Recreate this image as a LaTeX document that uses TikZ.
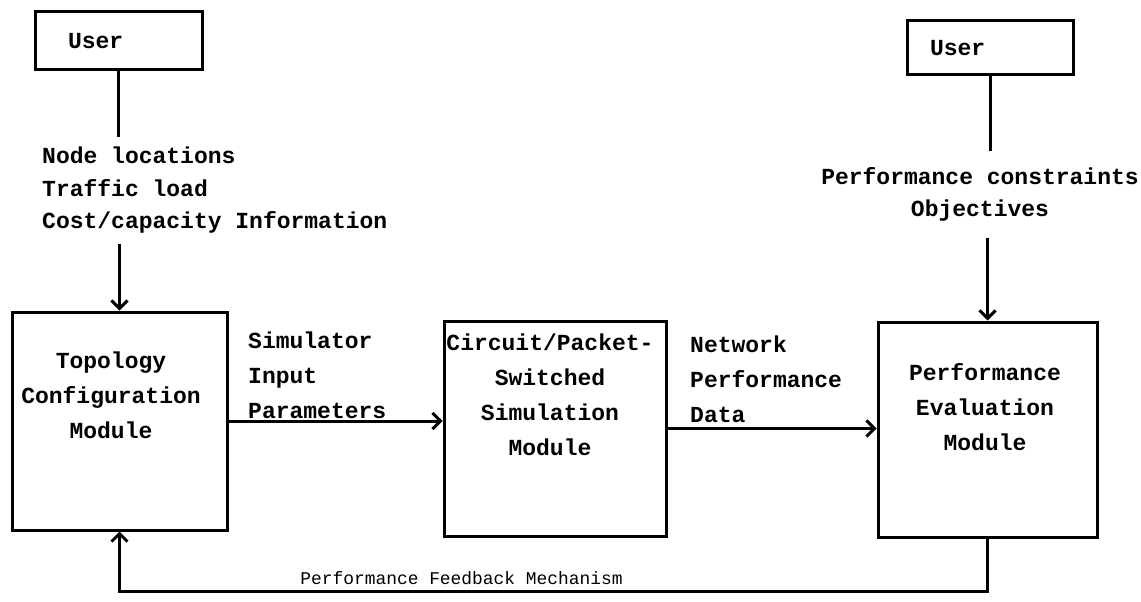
\documentclass[tikz,border=0pt]{standalone}
\usepackage{fontspec}
\setmonofont{Liberation Mono}
\usetikzlibrary{arrows.meta}
\begin{document}
\begin{tikzpicture}[x=1pt,y=-1pt,
  box/.style={draw, line width=3pt, inner sep=0pt},
  txt/.style={font=\ttfamily\bfseries\fontsize{23}{35}\selectfont, inner sep=0pt},
  lbl/.style={font=\ttfamily\bfseries\fontsize{23}{32.5}\selectfont, inner sep=0pt},
  link/.style={line width=3pt},
  flow/.style={link, -{Straight Barb[length=8pt,width=16pt]}}]
\useasboundingbox (0,0) rectangle (1141,602);

\node[box, txt, minimum height=58pt, inner xsep=33pt, text width=101pt] (user1) at (118.5,41) {User};
\node[box, txt, minimum height=54pt, inner xsep=23pt, text width=120pt] (user2) at (990,48) {User};

\node[box, minimum width=215pt, minimum height=218pt] (topo) at (119.5,421) {};
\node[box, minimum width=222pt, minimum height=215pt] (sim) at (555,428.5) {};
\node[box, minimum width=219pt, minimum height=215pt] (perf) at (987.5,429.5) {};

\node[txt, align=center, anchor=north] (topotext) at (111,352) {Topology\\Configuration\\Module};
\node[txt, align=center, anchor=north] (simtext) at (550,334) {Circuit/Packet-\\Switched\\Simulation\\Module};
\node[txt, align=center, anchor=north] (perftext) at (985,363) {Performance\\Evaluation\\Module};

\node[lbl, align=left, anchor=north west, inner ysep=10pt] (in1) at (42,137) {Node locations\\Traffic load\\Cost/capacity Information};
\node[lbl, align=center, anchor=north, inner ysep=16pt] (in2) at (980,151) {Performance constraints\\Objectives};
\node[txt, align=left, anchor=north west] (par1) at (248,332) {Simulator\\Input\\Parameters};
\node[txt, align=left, anchor=north west] (par2) at (690,336) {Network\\Performance\\Data};

\path[draw,link] (user1.south) -- (user1.south |- in1.north);
\path[draw,flow] (in1.south -| topo.north) -- (topo.north);
\path[draw,link] (user2.south) -- (user2.south |- in2.north);
\path[draw,flow] (in2.south -| perf.north) -- (perf.north);
\path[draw,flow] (topo.east) -- (topo.east -| sim.west);
\path[draw,flow] (sim.east) -- (sim.east -| perf.west);
\path[draw,flow] (perf.south) -- ++(0,53) -| node[pos=0.303, above, inner sep=5pt, font=\ttfamily\fontsize{17.9}{20}\selectfont] (fbtext) {Performance Feedback Mechanism} (topo.south);
\end{tikzpicture}
\end{document}
